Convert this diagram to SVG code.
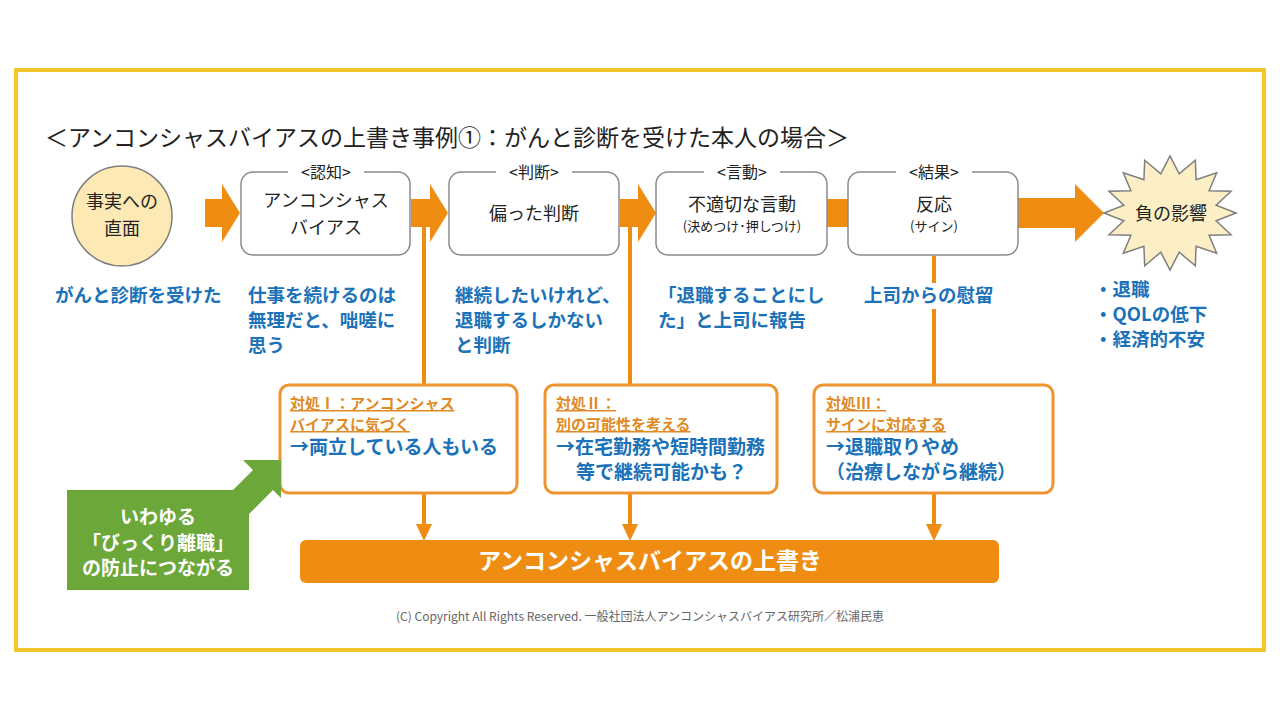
<svg xmlns="http://www.w3.org/2000/svg" width="1280" height="720" viewBox="0 0 1280 720">
<defs>
<style>
text{font-family:"Noto Sans CJK JP","Noto Sans",sans-serif;}
.title{font-size:23px;fill:#222;}
.step{font-size:18px;fill:#222;text-anchor:middle;}
.sub{font-size:13px;fill:#222;text-anchor:middle;}
.tag{font-size:16px;fill:#222;text-anchor:middle;}
.blue{font-size:18.5px;fill:#1B72B8;font-weight:700;}
.hdr{font-size:15px;fill:#E08A25;font-weight:700;text-decoration:underline;}
.act{font-size:19px;fill:#1B72B8;font-weight:700;}
.gbox{fill:#fff;stroke:#8A8A8A;stroke-width:1.5;}
.obox{fill:#fff;stroke:#EE9430;stroke-width:3;}
.ora{fill:#EF8D12;}
.vline{stroke:#EF8D12;stroke-width:4;fill:none;}
.white{font-size:19px;fill:#fff;font-weight:700;text-anchor:middle;}
</style>
</defs>
<rect x="0" y="0" width="1280" height="720" fill="#fff"/>
<rect id="frame" x="16" y="70" width="1248" height="580" fill="none" stroke="#F3C52A" stroke-width="4"/>
<text class="title" x="45" y="146">＜アンコンシャスバイアスの上書き事例①：がんと診断を受けた本人の場合＞</text>

<g id="connectors">
<path class="vline" d="M424 222 V386 M630 222 V386 M934 256 V283 M934 309 V386 M424 493 V528 M630 493 V528 M934 493 V528"/>
<polygon class="ora" points="416,524 432,524 424,541"/>
<polygon class="ora" points="622,524 638,524 630,541"/>
<polygon class="ora" points="926,524 942,524 934,541"/>
<polygon class="ora" points="205,199 222,199 222,184 240,213 222,242 222,227 205,227"/>
<polygon class="ora" points="411,199 430,199 430,184 448,213 430,242 430,227 411,227"/>
<polygon class="ora" points="620,199 638,199 638,184 656,213 638,242 638,227 620,227"/>
<rect class="ora" x="826" y="199" width="23" height="28"/>
<polygon class="ora" points="1018,198 1075,198 1075,184 1104,213 1075,242 1075,228 1018,228"/>
</g>

<g id="fact">
<circle cx="122" cy="216" r="50" fill="#FCE9B4" stroke="#7F7F7F" stroke-width="1.5"/>
<text class="step" x="122" y="208">事実への</text>
<text class="step" x="122" y="235">直面</text>
<text class="blue" x="55" y="302">がんと診断を受けた</text>
</g>

<g id="step1">
<rect class="gbox" x="241" y="172" width="169" height="83" rx="12"/>
<rect x="288" y="162" width="76" height="18" fill="#fff"/>
<text class="tag" x="326" y="178">&lt;認知&gt;</text>
<text class="step" x="326" y="207">アンコンシャス</text>
<text class="step" x="326" y="234">バイアス</text>
<text class="blue" x="248" y="302">仕事を続けるのは</text>
<text class="blue" x="248" y="327">無理だと、咄嗟に</text>
<text class="blue" x="248" y="352">思う</text>
</g>

<g id="step2">
<rect class="gbox" x="449" y="172" width="170" height="83" rx="12"/>
<rect x="496" y="162" width="76" height="18" fill="#fff"/>
<text class="tag" x="534" y="178">&lt;判断&gt;</text>
<text class="step" x="534" y="220">偏った判断</text>
<text class="blue" x="455" y="302">継続したいけれど、</text>
<text class="blue" x="455" y="327">退職するしかない</text>
<text class="blue" x="455" y="352">と判断</text>
</g>

<g id="step3">
<rect class="gbox" x="656" y="172" width="171" height="83" rx="12"/>
<rect x="704" y="162" width="76" height="18" fill="#fff"/>
<text class="tag" x="742" y="178">&lt;言動&gt;</text>
<text class="step" x="742" y="211">不適切な言動</text>
<text class="sub" x="742" y="231">(決めつけ･押しつけ)</text>
<text class="blue" x="658" y="302">「退職することにし</text>
<text class="blue" x="658" y="327">た」と上司に報告</text>
</g>

<g id="step4">
<rect class="gbox" x="848" y="172" width="170" height="83" rx="12"/>
<rect x="896" y="162" width="76" height="18" fill="#fff"/>
<text class="tag" x="934" y="178">&lt;結果&gt;</text>
<text class="step" x="934" y="211">反応</text>
<text class="sub" x="934" y="231">(サイン)</text>
<text class="blue" x="864" y="302">上司からの慰留</text>
</g>

<g id="impact">
<polygon points="1236,213 1216.1,220.8 1231,234.8 1209.1,235.2 1216.7,253.3 1196.1,246.3 1195.3,265.7 1179.2,252.2 1170,270 1160.8,252.2 1144.7,265.7 1143.9,246.3 1123.3,253.3 1130.9,235.2 1109,234.8 1123.9,220.8 1104,213 1123.9,205.2 1109,191.2 1130.9,190.8 1123.3,172.7 1143.9,179.7 1144.7,160.3 1160.8,173.8 1170,156 1179.2,173.8 1195.3,160.3 1196.1,179.7 1216.7,172.7 1209.1,190.8 1231,191.2 1216.1,205.2" fill="#FCEFC5" stroke="#7F7F7F" stroke-width="1.5" stroke-linejoin="miter"/>
<text class="step" x="1171" y="220">負の影響</text>
<text class="blue" x="1094" y="296">・退職</text>
<text class="blue" x="1094" y="321">・QOLの低下</text>
<text class="blue" x="1094" y="346">・経済的不安</text>
</g>

<g id="action1">
<rect class="obox" x="280" y="385" width="237" height="108" rx="9"/>
<text class="hdr" x="290" y="409">対処Ⅰ：アンコンシャス</text>
<text class="hdr" x="290" y="430">バイアスに気づく</text>
<text class="act" x="290" y="454">→両立している人もいる</text>
</g>

<g id="action2">
<rect class="obox" x="545" y="385" width="232" height="108" rx="9"/>
<text class="hdr" x="556" y="409">対処Ⅱ：</text>
<text class="hdr" x="556" y="430">別の可能性を考える</text>
<text class="act" x="556" y="454">→在宅勤務や短時間勤務</text>
<text class="act" x="576" y="479">等で継続可能かも？</text>
</g>

<g id="action3">
<rect class="obox" x="814" y="385" width="239" height="108" rx="9"/>
<text class="hdr" x="826" y="409">対処Ⅲ：</text>
<text class="hdr" x="826" y="430">サインに対応する</text>
<text class="act" x="826" y="454">→退職取りやめ</text>
<text class="act" x="826" y="479">（治療しながら継続）</text>
</g>

<g id="prevent">
<polygon points="67,490 233,490 253,470 243,460 281,460 281,498 273,490 249,514 249,590 67,590" fill="#6CA73A"/>
<text class="white" x="158" y="524">いわゆる</text>
<text class="white" x="158" y="550">「びっくり離職」</text>
<text class="white" x="158" y="575">の防止につながる</text>
</g>

<g id="override">
<rect x="300" y="540" width="699" height="43" rx="6" fill="#EF8D12"/>
<text x="650" y="569" font-size="23" fill="#fff" font-weight="700" text-anchor="middle">アンコンシャスバイアスの上書き</text>
</g>

<text x="640" y="621" font-size="12" fill="#666" text-anchor="middle">(C) Copyright All Rights Reserved.  一般社団法人アンコンシャスバイアス研究所／松浦民恵</text>
</svg>
